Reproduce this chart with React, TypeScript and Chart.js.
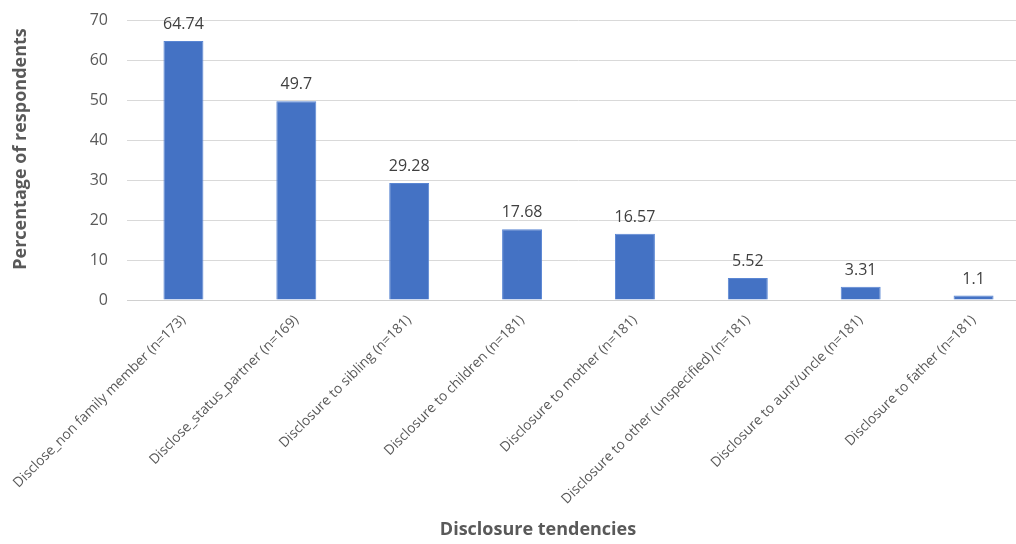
import React, { useEffect, useRef } from "react";
import { Chart, registerables } from "chart.js";

Chart.register(...registerables);

const categories = [
  "Disclose_non family member (n=173)",
  "Disclose_status_partner (n=169)",
  "Disclosure to sibling (n=181)",
  "Disclosure to children (n=181)",
  "Disclosure to mother (n=181)",
  "Disclosure to other (unspecified) (n=181)",
  "Disclosure to aunt/uncle (n=181)",
  "Disclosure to father (n=181)",
];
const values = [64.74, 49.7, 29.28, 17.68, 16.57, 5.52, 3.31, 1.1];
const valueLabels = ["64.74", "49.7", "29.28", "17.68", "16.57", "5.52", "3.31", "1.1"];
const yTitle = "Percentage of respondents";
const xTitle = "Disclosure tendencies";

const FONT = "'Open Sans', 'Noto Sans', sans-serif";

const labelsPlugin = {
  id: "customLabels",
  afterDatasetsDraw(chart: any) {
    const ctx = chart.ctx;
    const meta = chart.getDatasetMeta(0);
    ctx.save();
    ctx.font = `16px ${FONT}`;
    ctx.fillStyle = "#404040";
    ctx.textAlign = "center";
    ctx.textBaseline = "alphabetic";
    meta.data.forEach((bar: any, i: number) => {
      ctx.fillText(valueLabels[i], bar.x, bar.y - 12);
    });
    // axis titles
    ctx.fillStyle = "#595959";
    ctx.font = `bold 18px ${FONT}`;
    ctx.save();
    ctx.translate(21, 149);
    ctx.rotate(-Math.PI / 2);
    ctx.textAlign = "center";
    ctx.textBaseline = "middle";
    ctx.fillText(yTitle, 0, 0);
    ctx.restore();
    ctx.textAlign = "center";
    ctx.textBaseline = "middle";
    ctx.fillText(xTitle, 538, 530);
    ctx.restore();
  },
};

export default function App() {
  const ref = useRef<HTMLCanvasElement>(null);
  useEffect(() => {
    if (!ref.current) return;
    const chart = new Chart(ref.current, {
      type: "bar",
      data: {
        labels: categories,
        datasets: [
          {
            data: values,
            backgroundColor: "#4472C4",
            borderColor: "#5a86d3",
            borderWidth: 1,
            categoryPercentage: 1,
            barPercentage: 0.354,
          },
        ],
      },
      options: {
        animation: false,
        responsive: true,
        maintainAspectRatio: false,
        layout: { padding: { top: 20, right: 0, left: 0, bottom: 0 } },
        plugins: {
          legend: { display: false },
          tooltip: { enabled: false },
        },
        scales: {
          x: {
            grid: { display: false },
            border: { color: "#d0d0d0", width: 1 },
            ticks: {
              minRotation: 45,
              maxRotation: 45,
              autoSkip: false,
              padding: 4,
              color: "#595959",
              font: { family: FONT, size: 13.8 },
            },
            afterFit(scale: any) {
              scale.height = 244;
              scale.paddingTop = 0;
              scale.paddingBottom = 0;
            },
          },
          y: {
            min: 0,
            max: 70,
            grid: { color: "#d9d9d9", drawTicks: false },
            border: { display: false },
            ticks: {
              stepSize: 10,
              padding: 19,
              color: "#595959",
              font: { family: FONT, size: 16 },
            },
            afterFit(scale: any) {
              scale.width = 127;
              scale.paddingTop = 0;
              scale.paddingBottom = 0;
            },
          },
        },
      },
      plugins: [labelsPlugin],
    });
    return () => chart.destroy();
  }, []);
  return (
    <div style={{ position: "fixed", left: 0, top: 0, width: 1016, height: 544, overflow: "hidden", background: "#fff" }}>
      <div style={{ position: "absolute", left: 0, top: 0, width: 1030, height: 544 }}>
        <canvas ref={ref} />
      </div>
    </div>
  );
}
